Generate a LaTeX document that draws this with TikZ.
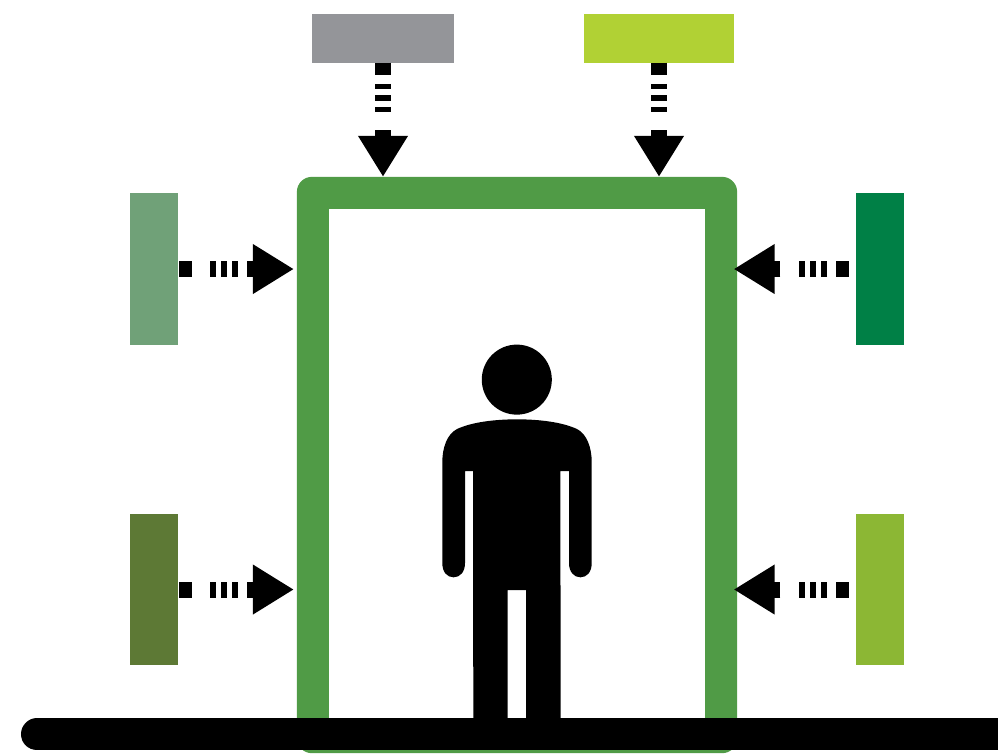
\documentclass[tikz,border=0pt]{standalone}
\usepackage{xcolor}
\usepackage{tikz}
\usetikzlibrary{arrows.meta}
\definecolor{frameolive}{RGB}{80, 155, 70}
\definecolor{stonegrey}{RGB}{148, 149, 153}
\definecolor{brightlime}{RGB}{177, 209, 52}
\definecolor{palesage}{RGB}{112, 161, 120}
\definecolor{deepgreen}{RGB}{0, 128, 70}
\definecolor{mossgreen}{RGB}{93, 121, 53}
\definecolor{leafgreen}{RGB}{140, 183, 52}

\begin{document}
\begin{tikzpicture}[
    x=0.01cm, y=-0.01cm,
    every node/.style={inner sep=0pt, outer sep=0pt},
    wide/.style={rectangle, minimum width=1.41cm, minimum height=0.485cm},
    tall/.style={rectangle, minimum width=0.48cm, minimum height=1.515cm},
    feed/.style={-{Triangle[length=0.41cm, width=0.47cm]}, line width=0.16cm, color=black},
    feeddown/.style={feed, dash pattern=on 0.12cm off 0.093cm on 0.055cm off 0.057cm on 0.057cm off 0.06cm on 0.053cm off 0.183cm on 0.5cm},
    feedright/.style={feed, shorten >=0.03cm, shorten <=0.01cm, dash pattern=on 0.124cm off 0.183cm on 0.06cm off 0.05cm on 0.06cm off 0.053cm on 0.06cm off 0.09cm on 0.5cm},
    feedleft/.style={feed, shorten >=-0.035cm, shorten <=0.07cm, dash pattern=on 0.127cm off 0.087cm on 0.06cm off 0.053cm on 0.06cm off 0.05cm on 0.06cm off 0.183cm on 0.5cm}
]
\clip (0, 0) rectangle (998, 753);

% Door frame
\node[rectangle, rounded corners=0.15cm, fill=frameolive, minimum width=4.4cm, minimum height=5.76cm] (frame) at (517, 465) {};
\node[rectangle, fill=white, minimum width=3.76cm, minimum height=5.12cm] (opening) at (517, 465) {};

% Person
\node[circle, fill=black, minimum size=0.7cm] (head) at (516.8, 379.6) {};
\fill[black] (517, 419.3) .. controls (495, 419.3) and (472, 422) .. (457, 429)
    .. controls (447, 434) and (442.3, 448) .. (442.3, 462) -- (442.3, 563)
    .. controls (442.3, 572) and (447, 577.3) .. (453.6, 577.3)
    .. controls (460, 577.3) and (465, 572) .. (465, 563) -- (465, 471) -- (473, 471)
    -- (473.3, 718) -- (507.7, 718) -- (507.7, 590) -- (526, 590) -- (526, 718) -- (560.7, 718)
    -- (560.3, 471) -- (569, 471) -- (569, 563)
    .. controls (569, 572) and (574, 577.3) .. (580.4, 577.3)
    .. controls (587, 577.3) and (591.7, 572) .. (591.7, 563) -- (591.7, 462)
    .. controls (591.7, 448) and (587, 434) .. (577, 429)
    .. controls (562, 422) and (539, 419.3) .. (517, 419.3) -- cycle;

% Floor
\draw[black, line width=0.32cm, line cap=round] (37, 734.3) -- (1040, 734.3);

% Surrounding boxes
\node[wide, fill=stonegrey] (greybox) at (383, 38.3) {};
\node[wide, minimum width=1.5cm, fill=brightlime] (limebox) at (659, 38.3) {};
\node[tall, fill=palesage] (sagebox) at (154.3, 269) {};
\node[tall, fill=mossgreen] (mossbox) at (154.3, 589.5) {};
\node[tall, fill=deepgreen] (deepbox) at (879.5, 269) {};
\node[tall, fill=leafgreen] (leafbox) at (879.5, 589.5) {};

% Arrows
\draw[feeddown] (greybox.south) -- (greybox.south |- frame.north);
\draw[feeddown] (limebox.south) -- (limebox.south |- frame.north);
\draw[feedright] (sagebox.east) -- (sagebox.east -| frame.west);
\draw[feedright] (mossbox.east) -- (mossbox.east -| frame.west);
\draw[feedleft] (deepbox.west) -- (deepbox.west -| frame.east);
\draw[feedleft] (leafbox.west) -- (leafbox.west -| frame.east);

\end{tikzpicture}
\end{document}
